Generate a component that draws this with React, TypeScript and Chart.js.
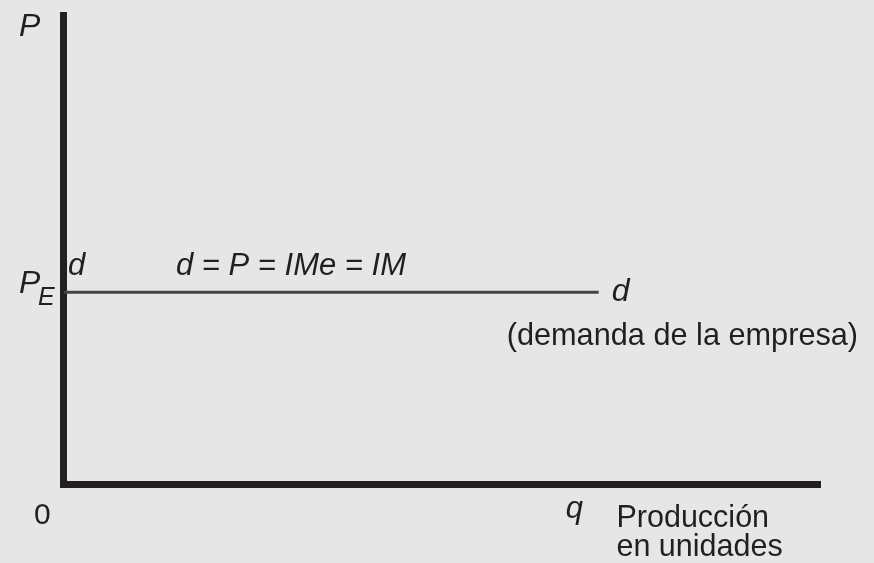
import React, { useEffect, useRef } from "react";
import { Chart, registerables } from "chart.js";

Chart.register(...registerables);

// ---- data ----
const X_RANGE = [0, 100];
const Y_RANGE = [0, 100];
const PRICE_E = 41; // market price P_E
const DEMAND_X = [0, 70.7]; // extent of the horizontal firm demand curve
const Q_VALUE = 67.5; // position of q on the quantity axis
const Y_AXIS_LABEL = "P";
const X_AXIS_LABEL = ["Producción", "en unidades"];
const ORIGIN_LABEL = "0";
const Q_LABEL = "q";
const DEMAND_LABEL = "d";
const EQUATION_LABEL = "d = P = IMe = IM";
const DEMAND_NOTE = "(demanda de la empresa)";

const BG = "#e6e6e6";
const INK = "#231f20";
const LINE = "#444444";
const FONT = '"Liberation Sans", Arial, Helvetica, sans-serif';

const labelPlugin = {
  id: "econLabels",
  afterDraw(chart: any) {
    const { ctx } = chart;
    const xs = chart.scales.x;
    const ys = chart.scales.y;
    const x0 = xs.getPixelForValue(X_RANGE[0]);
    const y0 = ys.getPixelForValue(Y_RANGE[0]);
    const yTop = ys.getPixelForValue(Y_RANGE[1]);
    const yPE = ys.getPixelForValue(PRICE_E);
    const xEnd = xs.getPixelForValue(DEMAND_X[1]);
    const xQ = xs.getPixelForValue(Q_VALUE);
    const it = (s: number) => `italic ${s}px ${FONT}`;
    const rg = (s: number) => `${s}px ${FONT}`;
    ctx.save();
    ctx.fillStyle = INK;
    ctx.textBaseline = "alphabetic";
    ctx.textAlign = "left";

    ctx.font = it(32);
    ctx.fillText(Y_AXIS_LABEL, x0 - 44.5, yTop + 20.5);
    ctx.fillText(Y_AXIS_LABEL, x0 - 44.5, yPE + 0.5);
    ctx.font = it(25);
    ctx.fillText("E", x0 - 25.5, yPE + 12.5);

    ctx.font = it(31);
    ctx.fillText(DEMAND_LABEL, x0 + 4.5, yPE - 17.5);
    ctx.fillText(EQUATION_LABEL, x0 + 112.5, yPE - 17.5);
    ctx.font = it(32);
    ctx.fillText(DEMAND_LABEL, xEnd + 13, yPE + 8.5);

    ctx.font = rg(30.7);
    ctx.fillText(DEMAND_NOTE, xEnd - 92, yPE + 52.5);

    ctx.font = rg(30);
    ctx.fillText(ORIGIN_LABEL, x0 - 29.5, y0 + 39.5);
    ctx.font = it(31);
    ctx.textAlign = "center";
    ctx.fillText(Q_LABEL, xQ, y0 + 33.5);
    ctx.textAlign = "left";
    ctx.font = rg(30.5);
    ctx.fillText(X_AXIS_LABEL[0], xQ + 42, y0 + 42.5);
    ctx.fillText(X_AXIS_LABEL[1], xQ + 42, y0 + 71.5);
    ctx.restore();
  },
};

export default function App() {
  const ref = useRef<HTMLCanvasElement | null>(null);
  useEffect(() => {
    if (!ref.current) return;
    const axis = (z: number) => ({
      type: "linear" as const,
      display: true,
      z,
      grid: { display: false, drawTicks: false },
      ticks: { display: false },
      border: { display: true, width: 7, color: INK },
    });
    const chart = new Chart(ref.current, {
      type: "line",
      data: {
        datasets: [
          {
            data: DEMAND_X.map((x) => ({ x, y: PRICE_E })),
            borderColor: LINE,
            borderWidth: 3,
            pointRadius: 0,
            fill: false,
          },
        ],
      },
      options: {
        animation: false,
        responsive: false,
        maintainAspectRatio: false,
        layout: { padding: { left: 63.5, right: 53.5, top: 15.5, bottom: 78.5 } },
        plugins: { legend: { display: false }, tooltip: { enabled: false } },
        scales: {
          x: { ...axis(1), min: X_RANGE[0], max: X_RANGE[1] },
          y: { ...axis(1), min: Y_RANGE[0], max: Y_RANGE[1] },
        },
      },
      plugins: [labelPlugin],
    });
    return () => chart.destroy();
  }, []);
  return (
    <div
      style={{
        position: "fixed",
        left: 0,
        top: 0,
        width: 874,
        height: 563,
        background: BG,
      }}
    >
      <canvas ref={ref} width={874} height={563} style={{ display: "block" }} />
    </div>
  );
}
